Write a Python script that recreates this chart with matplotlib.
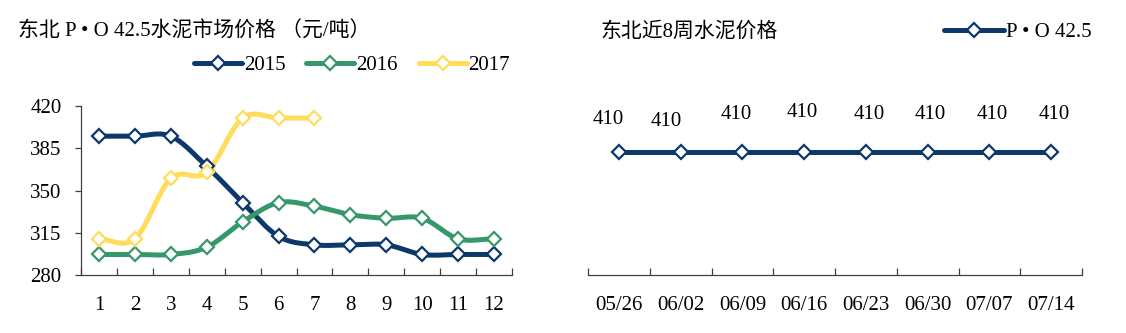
import matplotlib
matplotlib.use("Agg")
import matplotlib.pyplot as plt
from matplotlib.lines import Line2D
import numpy as np

plt.rcParams['font.family'] = ['Liberation Serif', 'Noto Sans CJK SC', 'DejaVu Sans']

# monthly prices, yuan per ton
months = list(range(1, 13))
price_2015 = [395, 395, 395, 370, 340, 312, 305, 305, 305, 297, 297, 297]
price_2016 = [297, 297, 297, 303, 324, 340, 337, 330, 327, 327, 310, 310]
price_2017 = [310, 310, 360, 365, 410, 410, 410]
year_labels = ['2015', '2016', '2017']

# last eight weeks
weeks = ['05/26', '06/02', '06/09', '06/16', '06/23', '06/30', '07/07', '07/14']
weekly_price = [410, 410, 410, 410, 410, 410, 410, 410]

colors = ['#0C386A', '#35976A', '#FFDC5A']
# label nudges (pixels) for the weekly data labels
label_dx = [-11, -14, -6, -2, 3, 3, 3, 3]
label_dy = [32, 30, 37, 39, 37, 37, 37, 37]

FS = 15


def smooth(xs, ys, n=20):
    # Catmull-Rom curve through the points, like a spreadsheet "smoothed line"
    xs = np.asarray(xs, float)
    ys = np.asarray(ys, float)
    if len(xs) < 3:
        return xs, ys
    px = np.concatenate([[2 * xs[0] - xs[1]], xs, [2 * xs[-1] - xs[-2]]])
    py = np.concatenate([[2 * ys[0] - ys[1]], ys, [2 * ys[-1] - ys[-2]]])
    out_x, out_y = [], []
    t = np.linspace(0, 1, n, endpoint=False)
    for i in range(1, len(px) - 2):
        p0, p1, p2, p3 = py[i - 1], py[i], py[i + 1], py[i + 2]
        q0, q1, q2, q3 = px[i - 1], px[i], px[i + 1], px[i + 2]
        out_y.append(0.5 * (2 * p1 + (-p0 + p2) * t + (2 * p0 - 5 * p1 + 4 * p2 - p3) * t ** 2
                            + (-p0 + 3 * p1 - 3 * p2 + p3) * t ** 3))
        out_x.append(0.5 * (2 * q1 + (-q0 + q2) * t + (2 * q0 - 5 * q1 + 4 * q2 - q3) * t ** 2
                            + (-q0 + 3 * q1 - 3 * q2 + q3) * t ** 3))
    out_x.append([xs[-1]])
    out_y.append([ys[-1]])
    return np.concatenate(out_x), np.concatenate(out_y)


fig = plt.figure(figsize=(11.26, 3.33), dpi=100)
ax1 = fig.add_axes([81 / 1126, 1 - 275 / 333, 431 / 1126, 169 / 333])
ax2 = fig.add_axes([588 / 1126, 1 - 275 / 333, 494 / 1126, 169 / 333])

for ax in (ax1, ax2):
    for s in ('top', 'right'):
        ax.spines[s].set_visible(False)
    for s in ('left', 'bottom'):
        ax.spines[s].set_color('#404040')
        ax.spines[s].set_linewidth(0.9)

# left chart: yearly curves
handles = []
for ys, c, lab in zip([price_2015, price_2016, price_2017], colors, year_labels):
    xs = months[:len(ys)]
    sx, sy = smooth(xs, ys)
    ax1.plot(sx, sy, color=c, lw=3.6, solid_capstyle='round', zorder=2)
    ax1.plot(xs, ys, ls='none', marker='D', ms=7, mfc='white', mec=c, mew=1.6, zorder=3)
    handles.append(Line2D([], [], color=c, lw=3.6, marker='D', ms=7, mfc='white',
                          mec=c, mew=1.6, solid_capstyle='round', label=lab))

ax1.set_xlim(0.5, 12.5)
ax1.set_ylim(280, 420)
ax1.set_yticks(np.arange(280, 421, 35))
ax1.tick_params(axis='y', direction='out', length=4, width=0.9, color='#404040',
                labelsize=FS, pad=10)
ax1.set_xticks(np.arange(0.5, 12.6, 1))
ax1.set_xticklabels([])
ax1.set_xticks(months, minor=True)
ax1.set_xticklabels([str(m) for m in months], minor=True)
ax1.tick_params(axis='x', which='major', direction='in', length=5, width=0.9, color='#404040')
ax1.tick_params(axis='x', which='minor', length=0, labelsize=FS, pad=15)

fig.text(18 / 1126, 1 - 32 / 333, '东北 P • O 42.5水泥市场价格 （元/吨）', fontsize=FS,
         va='center', ha='left')
fig.legend(handles=handles, loc='center', bbox_to_anchor=(352 / 1126, 1 - 65 / 333),
           ncol=3, frameon=False, fontsize=FS, handlelength=2.3, columnspacing=1.0,
           handletextpad=0.1, borderpad=0)

# right chart: weekly prices
wx = np.arange(1, len(weeks) + 1)
ax2.plot(wx, weekly_price, color=colors[0], lw=3.6, solid_capstyle='round', zorder=2)
ax2.plot(wx, weekly_price, ls='none', marker='D', ms=7, mfc='white', mec=colors[0],
         mew=1.6, zorder=3)
for x, y, dx, dy in zip(wx, weekly_price, label_dx, label_dy):
    ax2.annotate(str(y), (x, y), xytext=(dx * 0.72, dy * 0.72), textcoords='offset points',
                 ha='center', va='center', fontsize=FS)

ax2.set_xlim(0.5, len(weeks) + 0.5)
ax2.set_ylim(0, 563)
ax2.spines['left'].set_visible(False)
ax2.set_yticks([])
ax2.set_xticks(np.arange(0.5, len(weeks) + 0.6, 1))
ax2.set_xticklabels([])
ax2.set_xticks(wx, minor=True)
ax2.set_xticklabels(weeks, minor=True)
ax2.tick_params(axis='x', which='major', direction='in', length=5, width=0.9, color='#404040')
ax2.tick_params(axis='x', which='minor', length=0, labelsize=FS, pad=15)

fig.text(600 / 1126, 1 - 32 / 333, '东北近8周水泥价格', fontsize=FS, va='center', ha='left')
h2 = Line2D([], [], color=colors[0], lw=3.6, marker='D', ms=7, mfc='white',
            mec=colors[0], mew=1.6, solid_capstyle='round', label='P • O 42.5')
fig.legend(handles=[h2], loc='center', bbox_to_anchor=(1018 / 1126, 1 - 32 / 333),
           frameon=False, fontsize=FS, handlelength=2.9, handletextpad=0.1, borderpad=0)

fig.savefig('out.png', dpi=100)
